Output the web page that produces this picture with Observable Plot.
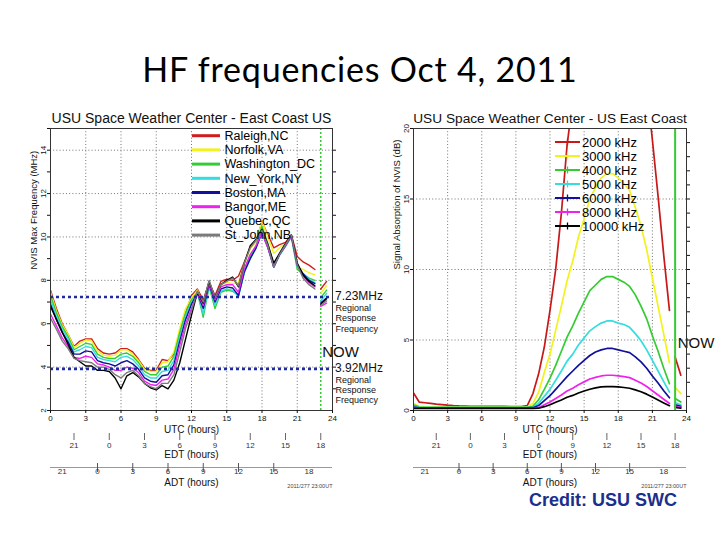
<!DOCTYPE html>
<html><head><meta charset="utf-8">
<script src="https://cdn.jsdelivr.net/npm/d3@7"></script>
<script src="https://cdn.jsdelivr.net/npm/@observablehq/plot@0.6"></script>
<style>
html,body{margin:0;padding:0;background:#fff;}
#slide{position:relative;width:720px;height:540px;overflow:hidden;background:#fff;font-family:"Liberation Sans",Arial,sans-serif;}
.abs{position:absolute;}
#title{left:0;top:47px;width:720px;text-align:center;font-family:Lato,"Open Sans",sans-serif;font-size:34px;letter-spacing:0.8px;line-height:44px;color:#000;}
#credit{left:529px;top:489px;font-weight:bold;font-size:18px;color:#1b2f8c;line-height:22px;}
</style></head>
<body><div id="slide">
<div id="title" class="abs">HF frequencies Oct 4, 2011</div>
</div>
<script>
// ---------- shared time axis (UTC hours) ----------
const hours = [0,0.5,1,1.5,2,2.5,3,3.5,4,4.5,5,5.5,6,6.5,7,7.5,8,8.5,9,9.5,10,10.5,11,11.5,
               12,12.5,13,13.5,14,14.5,15,15.5,16,16.5,17,17.5,18,18.5,19,19.5,20,20.5,21,21.5,22,22.5];
const gapHour = 22.75;
const nowHours = [23.0, 23.5];
const nowTime = 23;
const utcTicks = [0,3,6,9,12,15,18,21,24];
const edtLabels = [21,0,3,6,9,12,15,18];
const edtOffset = 5;
const adtLabels = [21,0,3,6,9,12,15,18];
const adtTicked = [0,3,6,9,12,15];
const adtOffset = 4;
const stamp = "2011/277 23:00UT";

// ---------- left panel: NVIS max frequency (MHz) ----------
const cities = ["Raleigh,NC","Norfolk,VA","Washington_DC","New_York,NY","Boston,MA","Bangor,ME","Quebec,QC","St_John,NB"];
const cityColors = ["#d01c1c","#f2f21c","#33cc33","#33dddd","#10109c","#ee22ee","#000000","#7a7a7a"];
const raleigh = [7.55,6.7,6.0,5.5,4.95,5.2,5.3,5.3,4.85,4.65,4.6,4.65,4.85,4.85,4.7,4.35,3.95,3.85,3.85,4.35,4.3,4.6,5.5,6.5,
                 7.3,7.6,7.1,7.9,7.3,7.95,8.05,8.0,8.2,8.85,9.5,9.8,10.7,10.1,9.5,9.65,9.75,10.1,9.1,8.85,8.7,8.5];
const norfolk = [7.45,6.6,5.95,5.5,4.9,5.1,5.25,5.2,4.75,4.55,4.5,4.55,4.8,4.8,4.6,4.3,3.9,3.8,3.8,4.2,4.25,4.7,5.8,6.7,
                 7.2,7.55,6.8,7.85,7.1,7.8,7.9,7.85,7.9,8.75,9.45,9.8,10.75,10.0,9.25,9.5,9.7,10.05,8.6,8.5,8.35,8.25];
const washington = [7.3,6.5,5.85,5.4,4.8,4.95,5.1,5.05,4.6,4.45,4.4,4.4,4.6,4.65,4.5,4.2,3.8,3.65,3.65,4.0,4.05,4.5,5.6,6.5,
                 7.1,7.45,6.3,7.7,6.7,7.45,7.55,7.5,7.3,8.4,9.1,9.6,10.5,9.7,8.7,9.2,9.6,10.0,8.5,8.3,8.1,8.0];
const newYork = [7.1,6.35,5.75,5.3,4.7,4.8,4.95,4.9,4.45,4.35,4.3,4.25,4.45,4.5,4.35,4.05,3.65,3.5,3.5,3.8,3.85,4.3,5.4,6.35,
                 7.0,7.45,6.45,7.75,6.85,7.5,7.6,7.55,7.25,8.35,9.0,9.5,10.3,9.6,8.6,9.15,9.55,10.0,8.6,8.3,8.05,7.9];
const boston = [6.9,6.2,5.6,5.15,4.6,4.6,4.75,4.7,4.3,4.2,4.15,4.05,4.2,4.3,4.15,3.9,3.5,3.35,3.3,3.6,3.65,4.1,5.2,6.2,
                 6.9,7.4,6.7,7.8,7.0,7.6,7.7,7.65,7.3,8.4,9.0,9.5,10.2,9.5,8.6,9.2,9.6,10.05,8.7,8.3,8.0,7.85];
const bangor = [6.45,5.9,5.35,4.95,4.45,4.4,4.5,4.45,4.15,4.1,4.0,3.85,3.85,4.0,3.95,3.75,3.35,3.2,3.15,3.4,3.45,3.9,5.0,6.0,
                 6.7,7.4,6.85,7.85,7.1,7.7,7.8,7.8,7.45,8.55,9.2,9.6,10.2,9.5,8.7,9.2,9.6,10.05,8.7,8.2,7.9,7.7];
const quebec = [6.8,6.2,5.6,5.05,4.45,4.25,4.05,4.05,3.85,3.85,3.8,3.5,3.0,3.6,3.75,3.55,3.25,3.05,2.95,3.15,3.0,3.4,4.2,5.3,
                 6.4,7.45,6.95,7.95,7.2,7.8,8.0,8.15,7.7,8.8,9.6,9.9,10.35,9.65,8.8,9.25,9.7,10.1,8.8,8.25,7.95,7.75];
const stJohn = [6.25,5.75,5.2,4.85,4.4,4.3,4.25,4.2,4.0,4.0,3.9,3.65,3.5,3.75,3.85,3.6,3.25,3.1,3.0,3.25,3.25,3.65,4.7,5.8,
                 6.6,7.5,7.0,8.0,7.2,7.8,7.95,8.1,7.75,8.8,9.5,9.85,10.3,9.6,8.6,9.2,9.65,10.1,8.7,8.1,7.8,7.6];
const cityNow = [[7.6,7.95],[7.4,7.75],[7.2,7.55],[7.05,7.4],[6.95,7.2],[6.8,6.95],[6.9,7.15],[6.85,7.05]];
const regionalMHz = [7.23, 3.92];

// ---------- right panel: signal absorption (dB) ----------
const freqs = ["2000 kHz","3000 kHz","4000 kHz","5000 kHz","6000 kHz","8000 kHz","10000 kHz"];
const freqColors = ["#c81818","#f2f21c","#33cc33","#33dddd","#10109c","#ee22ee","#000000"];
const abs2000 = [1.25,0.6,0.55,0.5,0.45,0.42,0.38,0.35,0.33,0.32,0.3,0.3,0.3,0.3,0.3,0.3,0.3,0.28,0.28,0.28,0.35,1.2,2.6,4.5,
                 7.1,10.0,14.0,18.8,22,25,28,30,32,33,33.5,33.5,33,32,30.5,28.5,25.5,23,19.2,15.2,11.0,7.1];
const abs3000 = [0.5,0.3,0.26,0.25,0.25,0.25,0.25,0.25,0.25,0.25,0.25,0.25,0.25,0.25,0.25,0.25,0.25,0.25,0.25,0.25,0.25,0.5,1.3,2.7,
                 4.0,5.7,7.4,9.2,10.6,12.3,13.6,15.0,15.8,16.5,16.8,16.8,16.5,16.1,15.6,14.4,13.1,11.4,9.4,7.4,5.4,3.4];
const abs4000 = [0.4,0.25,0.22,0.22,0.22,0.22,0.22,0.22,0.22,0.22,0.22,0.22,0.22,0.22,0.22,0.22,0.22,0.22,0.22,0.22,0.22,0.3,0.76,1.5,
                 2.3,3.2,4.2,5.2,6.0,6.9,7.7,8.5,8.9,9.3,9.5,9.5,9.3,9.1,8.8,8.2,7.4,6.5,5.3,4.2,3.0,1.9];
const abs5000 = [0.3,0.2,0.2,0.2,0.2,0.2,0.2,0.2,0.2,0.2,0.2,0.2,0.2,0.2,0.2,0.2,0.2,0.2,0.2,0.2,0.2,0.22,0.5,1.0,
                 1.5,2.15,2.8,3.5,4.0,4.65,5.15,5.65,5.95,6.2,6.35,6.35,6.2,6.1,5.9,5.45,4.95,4.3,3.55,2.8,2.05,1.3];
const abs6000 = [0.25,0.18,0.18,0.18,0.18,0.18,0.18,0.18,0.18,0.18,0.18,0.18,0.18,0.18,0.18,0.18,0.18,0.18,0.18,0.18,0.18,0.2,0.35,0.7,
                 1.05,1.5,1.95,2.4,2.8,3.2,3.55,3.9,4.15,4.3,4.4,4.4,4.3,4.2,4.1,3.8,3.45,3.0,2.45,1.95,1.4,0.9];
const abs8000 = [0.2,0.17,0.17,0.17,0.17,0.17,0.17,0.17,0.17,0.17,0.17,0.17,0.17,0.17,0.17,0.17,0.17,0.17,0.17,0.17,0.17,0.17,0.2,0.4,
                 0.6,0.85,1.1,1.38,1.58,1.83,2.03,2.23,2.35,2.45,2.5,2.5,2.45,2.4,2.33,2.15,1.95,1.7,1.4,1.1,0.8,0.5];
const abs10000 = [0.15,0.15,0.15,0.15,0.15,0.15,0.15,0.15,0.15,0.15,0.15,0.15,0.15,0.15,0.15,0.15,0.15,0.15,0.15,0.15,0.15,0.15,0.16,0.27,
                 0.41,0.58,0.75,0.94,1.07,1.24,1.38,1.51,1.6,1.67,1.7,1.7,1.67,1.63,1.58,1.46,1.33,1.16,0.95,0.75,0.54,0.34];
const freqNow = [[3.8,2.5],[1.65,1.2],[0.85,0.6],[0.55,0.4],[0.4,0.3],[0.3,0.22],[0.22,0.17]];
const nowLabelDb = 4.75;

// ---------- helpers ----------
const FONT = "'Liberation Sans', Arial, sans-serif";
function toRows(names, series, nows) {
  const rows = [];
  names.forEach((name, k) => {
    series[k].forEach((v, i) => rows.push({t: hours[i], v, s: name}));
    rows.push({t: gapHour, v: NaN, s: name});
    nows[k].forEach((v, i) => rows.push({t: nowHours[i], v, s: name}));
  });
  return rows;
}
const baseStyle = {fontFamily: FONT, fontSize: "8px", background: "transparent", overflow: "visible", color: "#111"};
const gridStyle = {stroke: "#666", strokeOpacity: 1, strokeDasharray: "1,2.2", strokeWidth: 0.9};

function mainPlot(o) {
  return Plot.plot({
    width: o.width, height: 340,
    marginLeft: o.ml, marginRight: o.mr, marginTop: 28, marginBottom: 30,
    style: baseStyle,
    x: {domain: [0, 24]},
    y: {domain: o.yDomain},
    color: {domain: o.names, range: o.colors},
    marks: [
      Plot.gridX(utcTicks.slice(1, -1), gridStyle),
      Plot.gridY(o.gridY, gridStyle),
      ...o.back,
      Plot.line(o.rows, {x: "t", y: "v", z: "s", stroke: "s", strokeWidth: o.lw, clip: true}),
      ...o.front,
      Plot.frame({stroke: "#333"}),
      Plot.axisX(utcTicks, {tickSize: 3, tickPadding: 1.5, label: null}),
      Plot.axisY(o.yTicks, {tickSize: 3, tickPadding: 2, tickRotate: -90, label: null}),
      Plot.axisY(o.yMinor, {tickSize: 3, tickFormat: () => "", label: null}),
      Plot.axisY(o.yMinorRight, {anchor: "right", tickSize: 3, tickFormat: () => "", label: null}),
      Plot.text([o.title], {frameAnchor: "top", dy: -15, fontSize: o.titleSize}),
      Plot.text(["UTC (hours)"], {frameAnchor: "bottom", dy: 22, fontSize: 10}),
      Plot.text([o.ylabel], {frameAnchor: "left", rotate: -90, dx: o.ylabelDx, fontSize: 9.5})
    ]
  });
}
function edtPlot(o) {
  return Plot.plot({
    width: o.width, height: 30, marginLeft: o.ml, marginRight: o.mr, marginTop: 0, marginBottom: 30,
    style: baseStyle, x: {domain: [0, 24]},
    marks: [
      Plot.axisX(edtLabels.map(l => (l + edtOffset) % 24),
        {tickSize: 7, tickPadding: 1.5, stroke: "#666", fill: "#333", tickFormat: d => (d - edtOffset + 24) % 24, label: null}),
      Plot.text(["EDT (hours)"], {frameAnchor: "bottom", dy: 24, fontSize: 10})
    ]
  });
}
function adtPlot(o) {
  return Plot.plot({
    width: o.width, height: 32, marginLeft: o.ml, marginRight: o.mr, marginTop: 0, marginBottom: 28,
    style: baseStyle, x: {domain: [0, 24]}, y: {domain: [0, 1], axis: null},
    marks: [
      Plot.ruleY([0], {stroke: "#999"}),
      Plot.tickX(adtTicked.map(l => (l + adtOffset) % 24), {x: d => d, stroke: "#555"}),
      Plot.axisX(adtTicked.map(l => (l + adtOffset) % 24), {tickSize: 5, stroke: "#555", tickFormat: () => "", label: null}),
      Plot.axisX(adtLabels.map(l => (l + adtOffset) % 24),
        {tickSize: 0, tickPadding: 1, fill: "#333", tickFormat: d => (d - adtOffset + 24) % 24, label: null}),
      Plot.text(["ADT (hours)"], {frameAnchor: "bottom", dy: 18, fontSize: 10}),
      Plot.text([stamp], {frameAnchor: "bottom-right", textAnchor: "end", dy: 20, fontSize: 5.5, fill: "#444"})
    ]
  });
}
function place(node, left, top) {
  const d = document.createElement("div");
  d.className = "abs"; d.style.left = left + "px"; d.style.top = top + "px";
  d.appendChild(node);
  document.getElementById("slide").appendChild(d);
}

// ---------- left panel ----------
const L = {width: 400, ml: 50, mr: 68};
place(mainPlot({
  ...L, yDomain: [2, 15], names: cities, colors: cityColors, lw: 1.4,
  rows: toRows(cities, [raleigh, norfolk, washington, newYork, boston, bangor, quebec, stJohn], cityNow),
  gridY: [4,6,8,10,12,14], yTicks: [2,4,6,8,10,12,14], yMinor: [3,5,7,9,11,13,15],
  yMinorRight: [3,4,5,6,7,8,9,10,11,12,13,14],
  title: "USU Space Weather Center - East Coast US", titleSize: 14,
  ylabel: "NVIS Max Frequency (MHz)", ylabelDx: -17,
  back: [
    Plot.ruleX([nowTime], {stroke: "#33cc33", strokeWidth: 1.5, strokeDasharray: "2,2"})
  ],
  front: [
    Plot.ruleY(regionalMHz, {stroke: "#1f2b9e", strokeWidth: 2.6, strokeDasharray: "3,3"}),
    Plot.text(regionalMHz, {y: d => d, frameAnchor: "right", textAnchor: "start", dx: 2.5, dy: -1, text: d => d + "MHz", fontSize: 12}),
    Plot.text(regionalMHz, {y: d => d, frameAnchor: "right", textAnchor: "start", lineAnchor: "top", dx: 3, dy: 6.5,
      text: () => "Regional\nResponse\nFrequency", fontSize: 9, lineHeight: 1.15}),
    Plot.text([nowTime], {x: d => d, y: () => regionalMHz[1], text: () => "NOW", textAnchor: "start", dx: 1.5, dy: -17, fontSize: 15})
  ]
}), 0, 100);
place(edtPlot(L), 0, 433);
place(adtPlot(L), 0, 463);

// ---------- right panel ----------
const R = {width: 340, ml: 33, mr: 34};
place(mainPlot({
  ...R, yDomain: [0, 20], names: freqs, colors: freqColors, lw: 1.7,
  rows: toRows(freqs, [abs2000, abs3000, abs4000, abs5000, abs6000, abs8000, abs10000], freqNow),
  gridY: [5,10,15], yTicks: [0,5,10,15,20], yMinor: [], yMinorRight: d3.range(1, 20),
  title: "USU Space Weather Center - US East Coast", titleSize: 13.7,
  ylabel: "Signal Absorption of NVIS (dB)", ylabelDx: -17,
  back: [],
  front: [
    Plot.ruleX([nowTime], {stroke: "#33cc33", strokeWidth: 2}),
    Plot.text([nowTime], {x: d => d, y: () => nowLabelDb, text: () => "NOW", textAnchor: "start", dx: 2.5, fontSize: 15})
  ]
}), 380, 100);
place(edtPlot(R), 380, 433);
place(adtPlot(R), 380, 463);

// ---------- legends ----------
const ov = d3.select("#slide").append("svg").attr("class", "abs")
  .style("left", "0px").style("top", "0px").attr("width", 720).attr("height", 540)
  .style("font-family", FONT);
const lg1 = ov.append("g").selectAll("g").data(cities).join("g")
  .attr("transform", (d, i) => `translate(0,${135.7 + 14.2 * i})`);
lg1.append("line").attr("x1", 192).attr("x2", 220).attr("stroke", (d, i) => cityColors[i]).attr("stroke-width", 3);
lg1.append("text").attr("x", 224.5).attr("dy", "0.35em").attr("font-size", 12.5).text(d => d);
const lg2 = ov.append("g").selectAll("g").data(freqs).join("g")
  .attr("transform", (d, i) => `translate(0,${142 + 14 * i})`);
lg2.append("line").attr("x1", 555).attr("x2", 580).attr("stroke", (d, i) => freqColors[i]).attr("stroke-width", 2);
lg2.append("line").attr("x1", 567.5).attr("x2", 567.5).attr("y1", -3.5).attr("y2", 3.5).attr("stroke", (d, i) => freqColors[i]).attr("stroke-width", 1.3);
lg2.append("text").attr("x", 582).attr("dy", "0.35em").attr("font-size", 13).text(d => d);

// ---------- credit ----------
const cr = document.createElement("div");
cr.id = "credit"; cr.className = "abs"; cr.textContent = "Credit: USU SWC";
document.getElementById("slide").appendChild(cr);
</script>
</body></html>
